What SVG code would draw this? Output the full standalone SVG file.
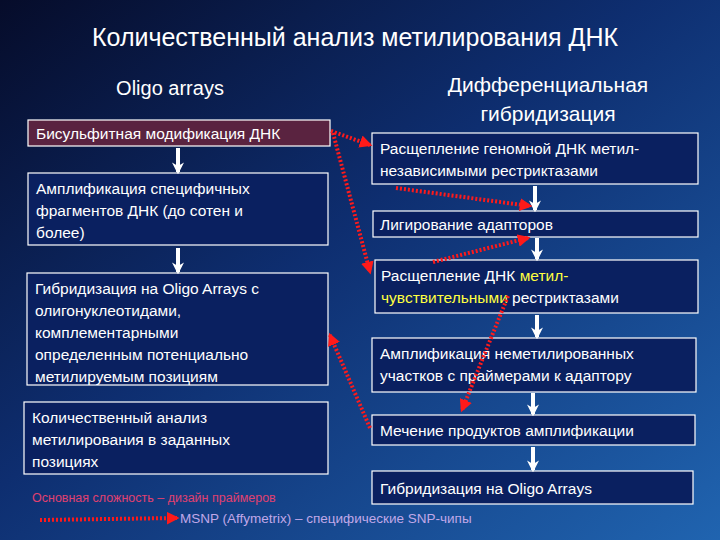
<svg xmlns="http://www.w3.org/2000/svg" width="720" height="540" viewBox="0 0 720 540">
<defs>
<linearGradient id="bg" x1="0" y1="0" x2="1" y2="1">
<stop offset="0" stop-color="#060c2a"/><stop offset="0.45" stop-color="#0e2e70"/><stop offset="1" stop-color="#2064b0"/>
</linearGradient>
<marker id="ra" viewBox="0 0 10 10" refX="8" refY="5" markerWidth="3.2" markerHeight="3.2" orient="auto"><path d="M0,0L10,5L0,10z" fill="#ff1a1a"/></marker>
<marker id="wa" viewBox="0 0 10 10" refX="8" refY="5" markerWidth="3" markerHeight="3" orient="auto"><path d="M0,0L10,5L0,10L3,5z" fill="#fff"/></marker>
</defs>
<style>
.b{fill:#0a2060;stroke:#fff;stroke-width:1.2}
.t{font-family:"Liberation Sans",Arial,sans-serif;font-size:15.5px;fill:#fff}
.h{font-family:"Liberation Sans",Arial,sans-serif;fill:#fff}
.w{stroke:#fff;stroke-width:4;fill:none;marker-end:url(#wa)}
.r{stroke:#ff1a1a;stroke-width:4;stroke-dasharray:2 2;fill:none;marker-end:url(#ra)}
</style>
<rect width="720" height="540" fill="url(#bg)"/>
<text class="h" x="355" y="46" font-size="25" text-anchor="middle">Количественный анализ метилирования ДНК</text>
<text class="h" x="170" y="95" font-size="20" text-anchor="middle">Oligo arrays</text>
<text class="h" x="548" y="92" font-size="21" text-anchor="middle">Дифференциальная</text>
<text class="h" x="548" y="121" font-size="21" text-anchor="middle">гибридизация</text>
<g id="l1"><rect x="28" y="120" width="302" height="26" fill="#5a2340" stroke="#fff" stroke-width="1.2"/><text class="t" x="36" y="139">Бисульфитная модификация ДНК</text></g>
<g id="l2"><rect class="b" x="28" y="173" width="300" height="72"/><text class="t" x="36" y="194">Амплификация специфичных</text><text class="t" x="36" y="216">фрагментов ДНК (до сотен и</text><text class="t" x="36" y="238">более)</text></g>
<g id="l3"><rect class="b" x="27" y="273" width="301" height="112"/><text class="t" x="35" y="294">Гибридизация на Oligo Arrays с</text><text class="t" x="35" y="316">олигонуклеотидами,</text><text class="t" x="35" y="338">комплементарными</text><text class="t" x="35" y="360">определенным потенциально</text><text class="t" x="35" y="382">метилируемым позициям</text></g>
<g id="l4"><rect class="b" x="24" y="402" width="304" height="72"/><text class="t" x="32" y="423">Количественный анализ</text><text class="t" x="32" y="445">метилирования в заданных</text><text class="t" x="32" y="467">позициях</text></g>
<g id="r1"><rect class="b" x="372" y="133" width="326" height="51"/><text class="t" x="380" y="154">Расщепление геномной ДНК метил-</text><text class="t" x="380" y="176">независимыми рестриктазами</text></g>
<g id="r2"><rect class="b" x="373" y="211" width="325" height="26"/><text class="t" x="380" y="230">Лигирование адапторов</text></g>
<g id="r3"><rect class="b" x="375" y="260" width="323" height="53"/><text class="t" x="381" y="281">Расщепление ДНК <tspan fill="#ffff40">метил-</tspan></text><text class="t" x="381" y="303"><tspan fill="#ffff40">чувствительными</tspan> рестриктазами</text></g>
<g id="r4"><rect class="b" x="372" y="338" width="324" height="54"/><text class="t" x="380" y="359">Амплификация неметилированных</text><text class="t" x="380" y="381">участков с праймерами к адаптору</text></g>
<g id="r5"><rect class="b" x="372" y="415" width="323" height="30"/><text class="t" x="380" y="436">Мечение продуктов амплификации</text></g>
<g id="r6"><rect class="b" x="372" y="471" width="321" height="33"/><text class="t" x="380" y="494">Гибридизация на Oligo Arrays</text></g>
<text x="32" y="502" font-family="Liberation Sans,Arial,sans-serif" font-size="12.5" fill="#e04070">Основная сложность – дизайн праймеров</text>
<text x="180" y="523" font-family="Liberation Sans,Arial,sans-serif" font-size="13.5" fill="#c0a8e8">MSNP (Affymetrix) – специфические SNP-чипы</text>
<g id="connectors">
<path class="w" d="M178 148V172"/><path class="w" d="M178 248V272"/>
<path class="w" d="M535 186V210"/><path class="w" d="M537 238V259"/><path class="w" d="M537 315V337"/><path class="w" d="M533 393V414"/><path class="w" d="M533 447V470"/>
<path class="r" d="M331 131L370 145"/>
<path class="r" d="M333 133L370 272"/>
<path class="r" d="M396 188L530 206"/>
<path class="r" d="M433 262L528 238"/>
<path class="r" d="M508 296L462 410"/>
<path class="r" d="M370 428L330 335"/>
<path class="r" d="M40 520L177 518"/>
</g>
</svg>
